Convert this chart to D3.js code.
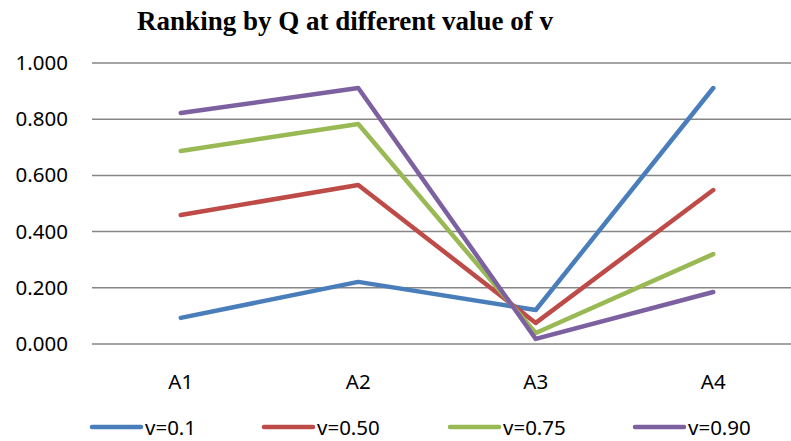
<!DOCTYPE html>
<html><head><meta charset="utf-8">
<script src="https://cdn.jsdelivr.net/npm/d3@7"></script>
<style>body{margin:0;background:#fff;} svg{display:block;}</style>
</head><body>
<svg id="c" width="791" height="441"></svg>
<script>
const categories = ["A1","A2","A3","A4"];
const seriesNames = ["v=0.1","v=0.50","v=0.75","v=0.90"];
const v01 = [0.093,0.221,0.121,0.911];
const v050 = [0.459,0.566,0.075,0.548];
const v075 = [0.687,0.783,0.039,0.320];
const v090 = [0.822,0.911,0.018,0.185];
const yTicks = [0,0.2,0.4,0.6,0.8,1.0];
const colors = ["#4A7EBB","#BE4B48","#98B954","#7D60A0"];
const series = [v01,v050,v075,v090];

const svg = d3.select("#c");
const x = d3.scaleBand().domain(categories).range([92,802]);
const y = d3.scaleLinear().domain([0,1]).range([344,63]);
const sans = "'Noto Sans', 'DejaVu Sans', sans-serif";

svg.append("text").attr("x",345).attr("y",30).attr("text-anchor","middle")
  .style("font-family","'Liberation Serif','Times New Roman',serif").style("font-weight","bold")
  .style("font-size","27px").text("Ranking by Q at different value of v");

const grid = svg.append("g");
grid.selectAll("line").data(yTicks).join("line")
  .attr("x1",92).attr("x2",802).attr("y1",d=>y(d)).attr("y2",d=>y(d))
  .attr("stroke","#868686").attr("stroke-width",1.5);

const yAxis = svg.append("g").attr("transform","translate(92,0)")
  .call(d3.axisLeft(y).tickValues(yTicks).tickFormat(d3.format(".3f")).tickSize(0).tickPadding(24));
yAxis.select(".domain").remove();
yAxis.selectAll("text").style("font-family",sans).style("font-size","20.5px").attr("fill","#000");

const xAxis = svg.append("g").attr("transform","translate(0,344)")
  .call(d3.axisBottom(x).tickSize(0).tickPadding(30));
xAxis.select(".domain").remove();
xAxis.selectAll("text").style("font-family",sans).style("font-size","20.5px").attr("fill","#000");

const line = d3.line().x((d,i)=>x(categories[i])+x.bandwidth()/2).y(d=>y(d));
svg.append("g").selectAll("path").data(series).join("path")
  .attr("d",line).attr("fill","none").attr("stroke",(d,i)=>colors[i])
  .attr("stroke-width",4.5).attr("stroke-linejoin","round").attr("stroke-linecap","round");

const legX = [92,264,450,635];
const leg = svg.append("g").selectAll("g").data(seriesNames).join("g")
  .attr("transform",(d,i)=>`translate(${legX[i]},427)`);
leg.append("line").attr("x1",0).attr("x2",49).attr("stroke",(d,i)=>colors[i])
  .attr("stroke-width",4.5).attr("stroke-linecap","round");
leg.append("text").attr("x",53).attr("y",7.5).style("font-family",sans).style("font-size","20.5px").text(d=>d);
</script>
</body></html>
